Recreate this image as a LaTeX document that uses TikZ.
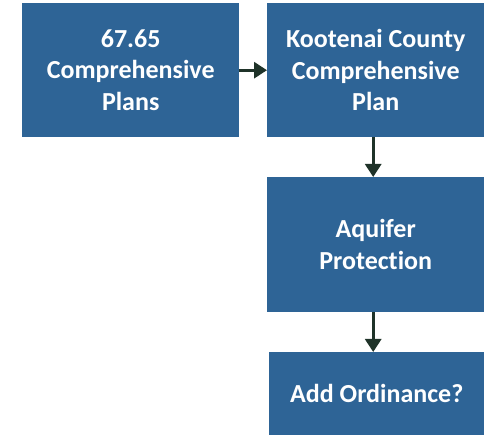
\documentclass[tikz,border=0pt]{standalone}
\usepackage{fontspec}
\setmainfont{Carlito}[Ligatures={NoCommon}]
\usetikzlibrary{arrows.meta}
\definecolor{boxblue}{HTML}{2E6496}
\definecolor{arrowc}{HTML}{1F3329}
\tikzset{
  box/.style={rectangle, fill=boxblue, draw=none, text=white, align=center,
    inner sep=0pt, font=\fontsize{26}{31.5}\selectfont\bfseries, anchor=north west},
  conn/.style={draw=arrowc, line width=3pt, -{Triangle[length=13pt,width=16pt]}}
}
\begin{document}
\begin{tikzpicture}[x=1pt,y=1pt]
\useasboundingbox (0,0) rectangle (487,-435);
\node[box, minimum width=217pt, minimum height=134pt] (a) at (22,-3) {67.65\\Comprehensive\\Plans};
\node[box, minimum width=217pt, minimum height=134pt] (b) at (267,-3) {Kootenai County\\Comprehensive\\Plan};
\node[box, minimum width=217pt, minimum height=135pt] (c) at (267,-177) {Aquifer\\Protection};
\node[box, minimum width=215pt, minimum height=83pt] (d) at (269,-352) {Add Ordinance?};
\draw[conn] (a.east) -- (b.west);
\draw[conn] ([xshift=-2.5pt]b.south) -- ([xshift=-2.5pt]c.north);
\draw[conn] ([xshift=-2.5pt]c.south) -- ([xshift=-2.5pt]c.south |- d.north);
\end{tikzpicture}
\end{document}
